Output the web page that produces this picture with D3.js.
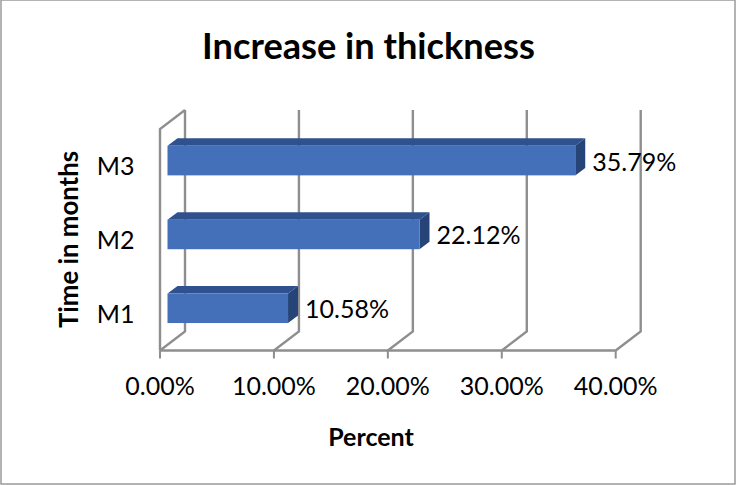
<!DOCTYPE html>
<html>
<head>
<meta charset="utf-8">
<script src="https://cdn.jsdelivr.net/npm/d3@7/dist/d3.min.js"></script>
<style>
	html, body { margin: 0; padding: 0; background: #fff; }
	svg { display: block; }
	text { font-family: Lato, "Open Sans", sans-serif; fill: #000; }
</style>
</head>
<body>
<div id="chart"></div>
<script>
	var categories = ['M3', 'M2', 'M1'];
	var values = [35.79, 22.12, 10.58];
	var ticks = [0, 10, 20, 30, 40];

	var width = 736, height = 485;
	var plot = {left: 160, right: 615.7, top: 129, bottom: 350.5};
	var wall = {dx: 25, dy: -19};
	var depth = {dx: 10, dy: -7.5};
	var barOffset = {x: 7.5, y: -5.3};
	var gridColor = '#8e8e8e';

	var svg = d3.select('#chart')
		.append('svg')
		.attr('width', width)
		.attr('height', height);

	// Outer frame
	svg.append('rect')
		.attr('x', 1)
		.attr('y', 0)
		.attr('width', width - 2)
		.attr('height', height - 1)
		.attr('fill', '#fff')
		.attr('stroke', '#9a9a9a')
		.attr('stroke-width', 1.5);

	var x = d3.scaleLinear()
		.domain([0, 40])
		.range([plot.left, plot.right]);

	var y = d3.scaleBand()
		.domain(categories)
		.range([plot.top, plot.bottom])
		.paddingInner(0.6)
		.paddingOuter(0.3);

	// Grid lines on the back wall with their floor part
	svg.selectAll('path.grid')
		.data(ticks).enter()
		.append('path')
			.attr('class', 'grid')
			.attr('fill', 'none')
			.attr('stroke', gridColor)
			.attr('stroke-width', 2.4)
			.attr('d', function(d) {
				return 'M' + x(d) + ',' + plot.bottom +
					'L' + (x(d) + wall.dx) + ',' + (plot.bottom + wall.dy) +
					'L' + (x(d) + wall.dx) + ',' + (plot.top + wall.dy);
			});

	// Left wall
	svg.append('path')
		.attr('fill', 'none')
		.attr('stroke', gridColor)
		.attr('stroke-width', 2.4)
		.attr('d', 'M' + plot.left + ',' + plot.bottom +
			'L' + plot.left + ',' + plot.top +
			'L' + (plot.left + wall.dx) + ',' + (plot.top + wall.dy));

	// Bottom axis line and ticks
	svg.append('line')
		.attr('x1', x(0))
		.attr('x2', x(40))
		.attr('y1', plot.bottom)
		.attr('y2', plot.bottom)
		.attr('stroke', gridColor)
		.attr('stroke-width', 2.4);

	svg.selectAll('line.tick')
		.data(ticks).enter()
		.append('line')
			.attr('class', 'tick')
			.attr('x1', function(d) { return x(d); })
			.attr('x2', function(d) { return x(d); })
			.attr('y1', plot.bottom)
			.attr('y2', plot.bottom + 8)
			.attr('stroke', gridColor)
			.attr('stroke-width', 2);

	svg.selectAll('text.tickLabel')
		.data(ticks).enter()
		.append('text')
			.attr('class', 'tickLabel')
			.attr('x', function(d) { return x(d); })
			.attr('y', 395)
			.attr('text-anchor', 'middle')
			.attr('font-size', 25)
			.text(function(d) { return d.toFixed(2) + '%'; });

	// Bars
	var bars = svg.selectAll('g.bar')
		.data(categories).enter()
		.append('g')
			.attr('class', 'bar');

	function barTop(c) { return y(c) + barOffset.y; }
	function barStart() { return x(0) + barOffset.x; }
	function barEnd(c, i) { return x(values[i]) + barOffset.x; }

	bars.append('path')
		.attr('fill', '#2f528f')
		.attr('d', function(c, i) {
			return 'M' + barStart() + ',' + barTop(c) +
				'l' + depth.dx + ',' + depth.dy +
				'L' + (barEnd(c, i) + depth.dx) + ',' + (barTop(c) + depth.dy) +
				'L' + barEnd(c, i) + ',' + barTop(c) + 'Z';
		});

	bars.append('path')
		.attr('fill', '#264478')
		.attr('d', function(c, i) {
			return 'M' + barEnd(c, i) + ',' + barTop(c) +
				'l' + depth.dx + ',' + depth.dy +
				'v' + y.bandwidth() +
				'l' + (-depth.dx) + ',' + (-depth.dy) + 'Z';
		});

	bars.append('rect')
		.attr('fill', '#4370b8')
		.attr('x', barStart())
		.attr('y', barTop)
		.attr('width', function(c, i) { return barEnd(c, i) - barStart(); })
		.attr('height', y.bandwidth());

	bars.append('text')
		.attr('x', function(c, i) { return barEnd(c, i) + 17; })
		.attr('y', function(c) { return barTop(c) + y.bandwidth() / 2 + 10; })
		.attr('font-size', 25)
		.text(function(c, i) { return values[i].toFixed(2) + '%'; });

	bars.append('text')
		.attr('x', 134.5)
		.attr('y', function(c) { return barTop(c) + y.bandwidth() / 2 + 14.5; })
		.attr('text-anchor', 'end')
		.attr('font-size', 25)
		.text(function(c) { return c; });

	// Titles
	svg.append('text')
		.attr('x', 368.5)
		.attr('y', 58.5)
		.attr('text-anchor', 'middle')
		.attr('font-size', 36.2)
		.attr('font-weight', 'bold')
		.text('Increase in thickness');

	svg.append('text')
		.attr('x', 371)
		.attr('y', 445.5)
		.attr('text-anchor', 'middle')
		.attr('font-size', 25)
		.attr('font-weight', 'bold')
		.text('Percent');

	svg.append('text')
		.attr('transform', 'translate(78,239.5) rotate(-90)')
		.attr('text-anchor', 'middle')
		.attr('font-size', 25.8)
		.attr('font-weight', 'bold')
		.text('Time in months');
</script>
</body>
</html>
